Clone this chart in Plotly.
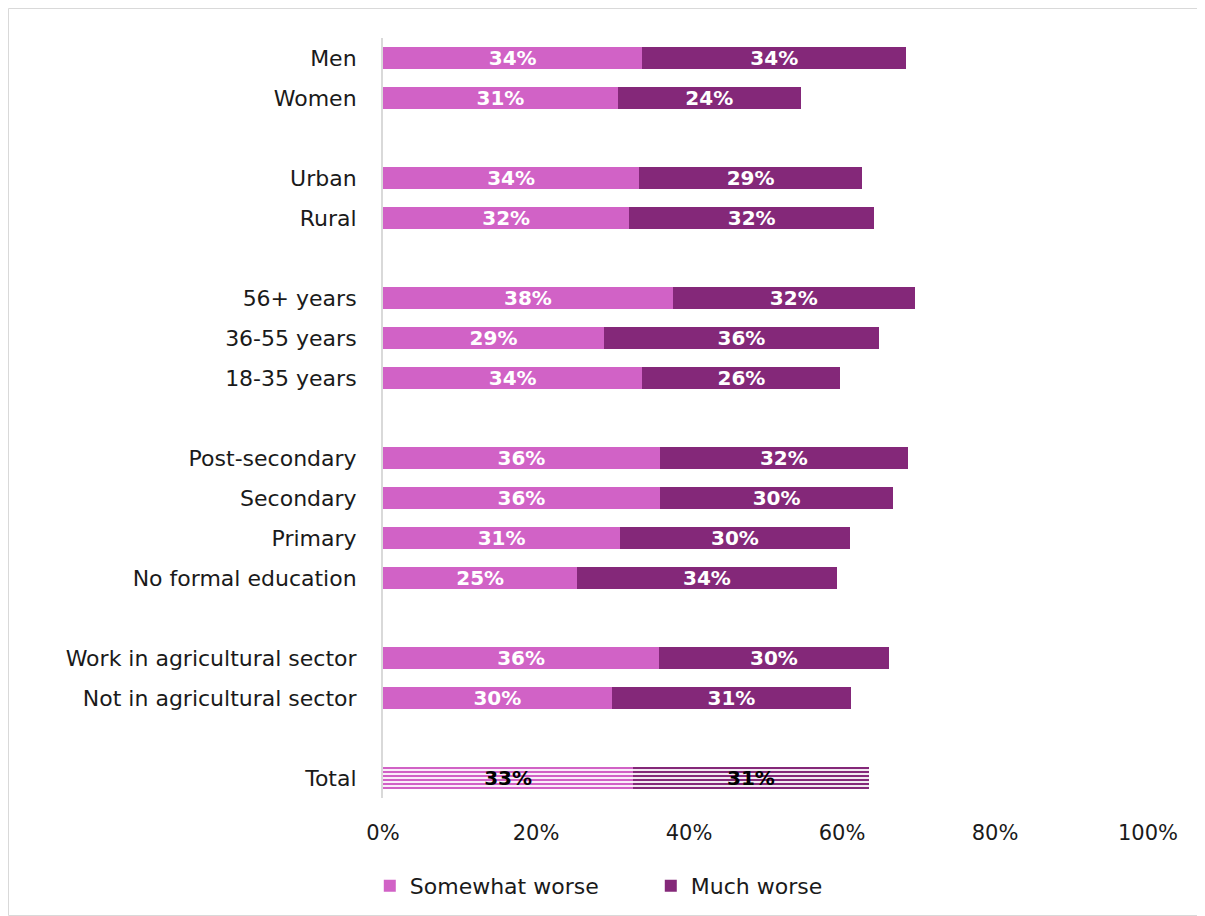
import plotly.graph_objects as go

groups = [
    ["Men", "Women"],
    ["Urban", "Rural"],
    ["56+ years", "36-55 years", "18-35 years"],
    ["Post-secondary", "Secondary", "Primary", "No formal education"],
    ["Work in agricultural sector", "Not in agricultural sector"],
    ["Total"],
]
somewhat = [33.9, 30.7, 33.5, 32.2, 37.9, 28.9, 33.9, 36.2, 36.2, 31.0, 25.4, 36.1, 29.9, 32.7]
much = [34.5, 23.9, 29.1, 32.0, 31.6, 35.9, 25.9, 32.4, 30.5, 30.0, 33.9, 30.0, 31.3, 30.8]
x_ticks = [0, 20, 40, 60, 80, 100]
x_tick_labels = ["0%", "20%", "40%", "60%", "80%", "100%"]

PINK = "#D162C6"
PURPLE = "#842879"
FONT = "DejaVu Sans"

cats, pos = [], []
p = 0
for i, g in enumerate(groups):
    for c in g:
        cats.append(c)
        pos.append(p)
        p += 1
    if i < len(groups) - 1:
        p += 1
n_slots = p
n_main = len(cats) - 1

W, H = 1197, 908
L, R, T, B = 375, 57, 30, 118

fig = go.Figure()
for name, vals, col in [("Somewhat worse", somewhat, PINK), ("Much worse", much, PURPLE)]:
    fig.add_trace(go.Bar(
        y=pos[:n_main], x=vals[:n_main], orientation="h", name=name,
        marker=dict(color=col, line=dict(width=0)), width=0.55,
        text=[f"{round(v)}%" for v in vals[:n_main]],
        textposition="inside", insidetextanchor="middle", constraintext="none",
        textfont=dict(family=FONT, size=20, color="white", weight="bold"),
        legendgroup=name,
    ))
    fig.add_trace(go.Bar(
        y=pos[n_main:], x=vals[n_main:], orientation="h", name=name,
        marker=dict(color="white", line=dict(width=0),
                    pattern=dict(shape="-", fgcolor=col, bgcolor="white", fgopacity=1,
                                 fillmode="replace", size=4, solidity=0.55)),
        width=0.55,
        text=[f"{round(v)}%" for v in vals[n_main:]],
        textposition="inside", insidetextanchor="middle", constraintext="none",
        textfont=dict(family=FONT, size=20, color="black", weight="bold"),
        legendgroup=name, showlegend=False,
    ))

fig.update_layout(
    barmode="stack",
    width=W, height=H,
    margin=dict(l=L, r=R, t=T, b=B),
    plot_bgcolor="white", paper_bgcolor="white",
    font=dict(family=FONT, size=21, color="#1a1a1a"),
    showlegend=True,
    legend=dict(orientation="h", xref="container", x=0.537, xanchor="center",
                yref="container", y=0.033, yanchor="middle",
                font=dict(size=22), traceorder="normal",
                entrywidth=236, entrywidthmode="pixels"),
    xaxis=dict(range=[0, 100], tickvals=x_ticks, ticktext=x_tick_labels,
               showgrid=False, zeroline=False, showline=False,
               ticks="outside", ticklen=16, tickcolor="white",
               tickfont=dict(size=21), fixedrange=True),
    yaxis=dict(range=[n_slots - 0.5, -0.5], tickvals=pos, ticktext=cats,
               showgrid=False, zeroline=False, showline=True, linecolor="#d9d9d9", linewidth=2,
               ticks="outside", ticklen=20, tickcolor="white",
               tickfont=dict(size=22)),
)

def px_x(v):
    return (v - L) / (W - L - R)

def px_y(v):
    return (H - B - v) / (H - T - B)

fig.add_shape(type="rect", xref="paper", yref="paper",
              x0=px_x(0.5), x1=px_x(W - 0.5), y0=px_y(0.5), y1=px_y(H - 0.5),
              line=dict(color="#d9d9d9", width=1), fillcolor="rgba(0,0,0,0)", layer="below")

fig.write_html("out.html")
